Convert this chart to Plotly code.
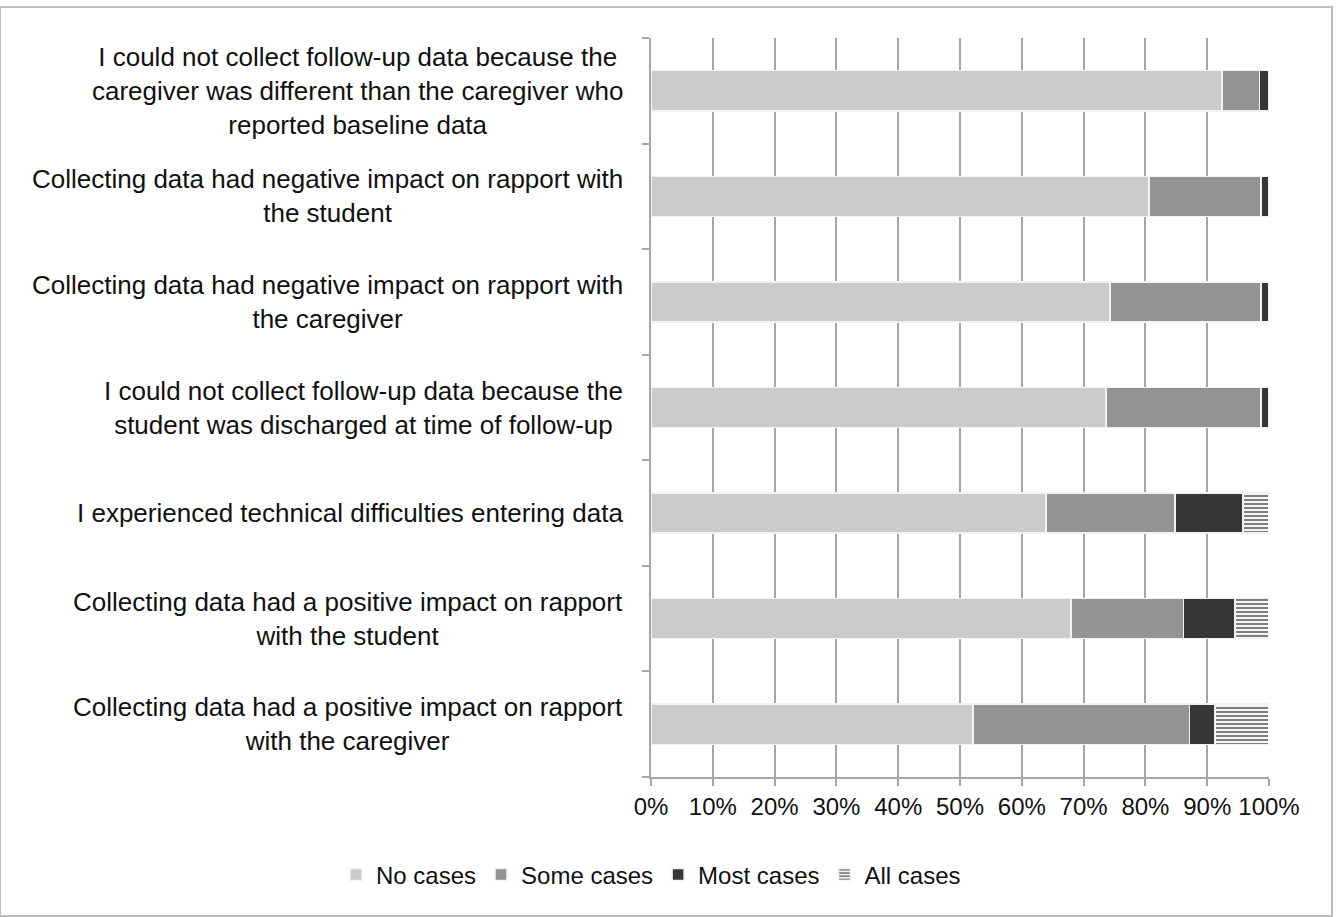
import plotly.graph_objects as go

categories = [
    "I could not collect follow-up data because the<br>caregiver was different than the caregiver who<br>reported baseline data",
    "Collecting data had negative impact on rapport with<br>the student",
    "Collecting data had negative impact on rapport with<br>the caregiver",
    "I could not collect follow-up data because the<br>student was discharged at time of follow-up",
    "I experienced technical difficulties entering data",
    "Collecting data had a positive impact on rapport<br>with the student",
    "Collecting data had a positive impact on rapport<br>with the caregiver",
]
no_cases = [92.4, 80.6, 74.3, 73.6, 63.9, 68.0, 52.1]
some_cases = [6.1, 18.1, 24.4, 25.1, 20.9, 18.2, 35.0]
most_cases = [1.5, 1.3, 1.3, 1.3, 11.0, 8.3, 4.2]
all_cases = [0.0, 0.0, 0.0, 0.0, 4.2, 5.5, 8.7]
series_names = ["No cases", "Some cases", "Most cases", "All cases"]
x_ticks = [0, 10, 20, 30, 40, 50, 60, 70, 80, 90, 100]

FONT = "Liberation Sans"
TXT = "#111111"
fig = go.Figure()
colors = ["#cbcbcb", "#939393", "#363636"]
for name, vals, col in zip(series_names[:3], [no_cases, some_cases, most_cases], colors):
    fig.add_trace(go.Bar(
        y=categories, x=vals, name=name, orientation="h",
        marker=dict(color=col, line=dict(color="#f2f2f2", width=1.5)),
    ))
fig.add_trace(go.Bar(
    y=categories, x=all_cases, name=series_names[3], orientation="h",
    marker=dict(color="white", line=dict(color="#f2f2f2", width=1.5),
                pattern=dict(shape="-", fgcolor="black", bgcolor="white", size=4, solidity=0.55)),
))

for c in categories:
    fig.add_annotation(
        x=0, xref="paper", xanchor="right", xshift=-26,
        y=c, yref="y", yanchor="middle",
        text=c, align="center", showarrow=False,
        font=dict(family=FONT, size=26, color=TXT),
    )

fig.update_layout(
    barmode="stack",
    bargap=0.62,
    width=1340, height=917,
    margin=dict(l=651, r=71, t=38, b=140),
    paper_bgcolor="white", plot_bgcolor="white",
    font=dict(family=FONT, size=24, color=TXT),
    showlegend=True,
    legend=dict(orientation="h", xref="paper", x=(336 - 651) / 618, xanchor="left",
                yref="paper", y=-(875 - 777) / 739, yanchor="middle",
                font=dict(size=24), traceorder="normal", itemwidth=30),
    xaxis=dict(range=[0, 100], tickvals=x_ticks, ticktext=[f"{v}%" for v in x_ticks],
               showgrid=True, gridcolor="#a6a6a6", gridwidth=2,
               showline=True, linecolor="#a6a6a6", linewidth=2,
               ticks="outside", ticklen=7, tickcolor="#a6a6a6", tickwidth=2,
               zeroline=False, tickfont=dict(size=24)),
    yaxis=dict(categoryorder="array", categoryarray=categories[::-1],
               showticklabels=False, showgrid=False,
               showline=True, linecolor="#a6a6a6", linewidth=2,
               ticks="outside", tickson="boundaries", ticklen=7,
               tickcolor="#a6a6a6", tickwidth=2),
    shapes=[dict(type="rect", xref="paper", yref="paper", x0=-651/618, x1=1.0+(1332-1269)/618,
                 y0=-(916-777)/739, y1=1+(38-7)/739,
                 line=dict(color="#bdbdbd", width=2), fillcolor="rgba(0,0,0,0)", layer="below")],
)

fig.write_html("out.html")
